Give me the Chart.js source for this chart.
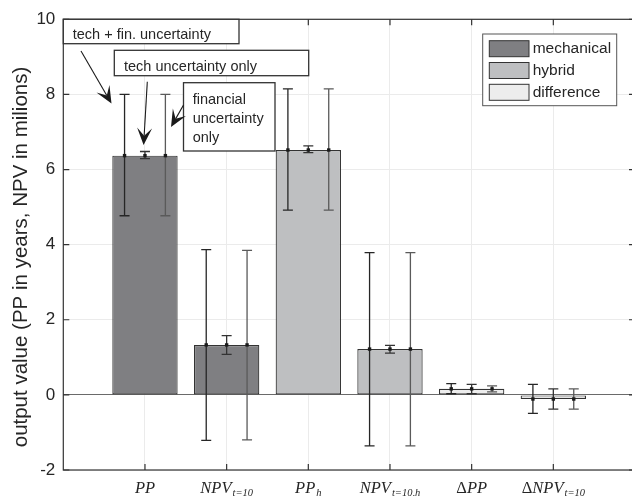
<!DOCTYPE html>
<html>
<head>
<meta charset="utf-8">
<script src="https://cdn.jsdelivr.net/npm/chart.js@4.4.0/dist/chart.umd.min.js"></script>
<style>
  html, body { margin: 0; padding: 0; background: #fff; overflow: hidden; }
  #wrap { width: 632px; height: 496px; overflow: hidden; }
</style>
</head>
<body>
<div id="wrap"><canvas id="chart" width="640" height="496"></canvas></div>
<script>
// categories (x labels are written LaTeX-style: prefix + italic name + subscript)
const labelPrefix = ['', '', '', '', 'Δ', 'Δ'];
const labelMain = ['PP', 'NPV', 'PP', 'NPV', 'PP', 'NPV'];
const labelSub = ['', 't=10', 'h', 't=10,h', '', 't=10'];

// which legend entry every bar belongs to
const seriesNames = ['mechanical', 'hybrid', 'difference'];
const seriesColors = ['#7f7f82', '#bebfc1', '#ededed'];
const barSeries = ['mechanical', 'mechanical', 'hybrid', 'hybrid', 'difference', 'difference'];

// bar heights (PP in years, NPV in millions)
const meanValues = [6.37, 1.33, 6.52, 1.22, 0.16, -0.11];

// error bars: tech + fin. uncertainty (left), tech only (centre), financial only (right)
const techFinLow = [4.77, -1.21, 4.92, -1.36, 0.03, -0.49];
const techFinHigh = [8.00, 3.87, 8.15, 3.79, 0.30, 0.28];
const techLow = [6.29, 1.08, 6.45, 1.11, 0.03, -0.38];
const techHigh = [6.48, 1.58, 6.63, 1.32, 0.28, 0.16];
const finLow = [4.77, -1.20, 4.92, -1.36, 0.08, -0.38];
const finHigh = [8.00, 3.85, 8.15, 3.79, 0.24, 0.16];

// y axis ticks
const yTicks = [-2, 0, 2, 4, 6, 8, 10];
const yTitle = 'output value (PP in years, NPV in milions)';

const sansFont = "'Liberation Sans', Arial, Helvetica, sans-serif";
const serifFont = "'Liberation Serif', 'Times New Roman', serif";
const axisColor = '#333333';

// one bar dataset per legend entry
const datasets = seriesNames.map((name, s) => ({
    label: name,
    data: meanValues
        .map((v, i) => ({ x: i + 1, y: v, series: barSeries[i] }))
        .filter(p => p.series === name),
    backgroundColor: seriesColors[s],
    borderColor: '#333333',
    borderWidth: 1.2,
    borderSkipped: false,
    grouped: false,
    categoryPercentage: 0.8,
    barPercentage: 1.0
}));

// error bars with a dot on the bar value
const errorBarPlugin = {
    id: 'errorBars',
    afterDatasetsDraw(chart) {
        const { ctx, scales: { x, y } } = chart;
        const groups = [
            { low: techFinLow, high: techFinHigh, shift: -0.25, color: '#262626' },
            { low: techLow, high: techHigh, shift: 0, color: '#333333' },
            { low: finLow, high: finHigh, shift: 0.25, color: '#5a5a5a' }
        ];
        ctx.save();
        groups.forEach(g => {
            meanValues.forEach((v, i) => {
                const px = x.getPixelForValue(i + 1 + g.shift);
                const yl = y.getPixelForValue(g.low[i]);
                const yh = y.getPixelForValue(g.high[i]);
                ctx.strokeStyle = g.color;
                ctx.lineWidth = 1.3;
                ctx.beginPath();
                ctx.moveTo(px, yl); ctx.lineTo(px, yh);
                ctx.moveTo(px - 5, yl); ctx.lineTo(px + 5, yl);
                ctx.moveTo(px - 5, yh); ctx.lineTo(px + 5, yh);
                ctx.stroke();
                ctx.fillStyle = '#1a1a1a';
                ctx.fillRect(px - 1.7, y.getPixelForValue(v) - 1.7, 3.4, 3.4);
            });
        });
        ctx.restore();
    }
};

function drawArrow(ctx, x0, y0, x1, y1) {
    const dx = x1 - x0, dy = y1 - y0;
    const len = Math.hypot(dx, dy);
    const ux = dx / len, uy = dy / len;
    const nx = -uy, ny = ux;
    const L = 17, W = 7.5, notch = 0.55;
    ctx.beginPath();
    ctx.moveTo(x0, y0);
    ctx.lineTo(x1 - ux * L * notch, y1 - uy * L * notch);
    ctx.stroke();
    ctx.beginPath();
    ctx.moveTo(x1, y1);
    ctx.lineTo(x1 - ux * L + nx * W, y1 - uy * L + ny * W);
    ctx.lineTo(x1 - ux * L * notch, y1 - uy * L * notch);
    ctx.lineTo(x1 - ux * L - nx * W, y1 - uy * L - ny * W);
    ctx.closePath();
    ctx.fill();
}

function textBox(ctx, x0, y0, x1, y1, lines, tx, ty, lh) {
    ctx.fillStyle = '#ffffff';
    ctx.fillRect(x0, y0, x1 - x0, y1 - y0);
    ctx.strokeStyle = '#333333';
    ctx.lineWidth = 1.3;
    ctx.strokeRect(x0, y0, x1 - x0, y1 - y0);
    ctx.fillStyle = '#262626';
    ctx.font = '14.5px ' + sansFont;
    ctx.textAlign = 'left';
    ctx.textBaseline = 'alphabetic';
    lines.forEach((t, k) => ctx.fillText(t, tx, ty + k * lh));
}

// MATLAB-like frame, inward ticks, axis title, LaTeX-ish x labels, annotations and legend
const decorPlugin = {
    id: 'decor',
    afterDraw(chart) {
        const { ctx, chartArea: a, scales: { x, y } } = chart;
        ctx.save();
        // frame
        ctx.strokeStyle = axisColor;
        ctx.lineWidth = 1.2;
        ctx.strokeRect(a.left, a.top, a.right - a.left, a.bottom - a.top);
        // inward ticks
        ctx.beginPath();
        yTicks.forEach(t => {
            const py = y.getPixelForValue(t);
            ctx.moveTo(a.left, py); ctx.lineTo(a.left + 6, py);
            ctx.moveTo(a.right, py); ctx.lineTo(a.right - 6, py);
        });
        meanValues.forEach((v, i) => {
            const px = x.getPixelForValue(i + 1);
            ctx.moveTo(px, a.bottom); ctx.lineTo(px, a.bottom - 6);
            ctx.moveTo(px, a.top); ctx.lineTo(px, a.top + 6);
        });
        ctx.stroke();

        // y axis title
        ctx.save();
        ctx.translate(21, 257);
        ctx.rotate(-Math.PI / 2);
        ctx.fillStyle = '#262626';
        ctx.font = '20.5px ' + sansFont;
        ctx.textAlign = 'center';
        ctx.textBaseline = 'middle';
        ctx.fillText(yTitle, 0, 0);
        ctx.restore();

        // x labels
        ctx.fillStyle = '#262626';
        ctx.textBaseline = 'alphabetic';
        ctx.textAlign = 'left';
        const base = 493;
        labelMain.forEach((m, i) => {
            const fPre = '16.5px ' + serifFont;
            const fMain = 'italic 16.5px ' + serifFont;
            const fSub = 'italic 10.5px ' + serifFont;
            ctx.font = fPre; const wPre = ctx.measureText(labelPrefix[i]).width;
            ctx.font = fMain; const wMain = ctx.measureText(m).width;
            ctx.font = fSub; const wSub = labelSub[i] ? ctx.measureText(labelSub[i]).width + 1 : 0;
            let px = x.getPixelForValue(i + 1) - (wPre + wMain + wSub) / 2;
            ctx.font = fPre; ctx.fillText(labelPrefix[i], px, base); px += wPre;
            ctx.font = fMain; ctx.fillText(m, px, base); px += wMain + 1;
            ctx.font = fSub; ctx.fillText(labelSub[i], px, base + 3);
        });

        // annotations
        textBox(ctx, 63.3, 19.3, 239, 43.7, ['tech + fin. uncertainty'], 72.7, 39, 0);
        textBox(ctx, 114.3, 50.3, 308.7, 75.7, ['tech uncertainty only'], 124, 70.5, 0);
        textBox(ctx, 183.5, 82.7, 275, 151, ['financial', 'uncertainty', 'only'], 192.7, 103.5, 19.3);
        ctx.strokeStyle = '#1a1a1a';
        ctx.fillStyle = '#1a1a1a';
        ctx.lineWidth = 1.1;
        drawArrow(ctx, 81, 51, 111.5, 103.5);
        drawArrow(ctx, 147.3, 81.7, 143.6, 145);
        drawArrow(ctx, 183.5, 105, 171, 127);

        // legend
        ctx.fillStyle = '#ffffff';
        ctx.fillRect(482.7, 34, 134, 71.7);
        ctx.strokeStyle = '#555555';
        ctx.lineWidth = 1;
        ctx.strokeRect(482.7, 34, 134, 71.7);
        chart.data.datasets.forEach((ds, k) => {
            const top = 40.7 + k * 21.8;
            ctx.fillStyle = ds.backgroundColor;
            ctx.fillRect(489.3, top, 39.7, 16);
            ctx.strokeStyle = '#333333';
            ctx.strokeRect(489.3, top, 39.7, 16);
            ctx.fillStyle = '#262626';
            ctx.font = '15.5px ' + sansFont;
            ctx.textBaseline = 'middle';
            ctx.fillText(ds.label, 532.7, top + 8.5);
        });
        ctx.restore();
    }
};

new Chart(document.getElementById('chart').getContext('2d'), {
    type: 'bar',
    data: { datasets: datasets },
    options: {
        responsive: false,
        animation: false,
        layout: { padding: { top: 19.3, right: 5, left: 0, bottom: 0 } },
        plugins: { legend: { display: false }, tooltip: { enabled: false } },
        scales: {
            x: {
                type: 'linear',
                min: 0,
                max: 7,
                offset: false,
                ticks: { display: false, stepSize: 1 },
                grid: {
                    offset: false,
                    drawTicks: false,
                    color: c => (c.tick.value === 0 || c.tick.value === 7) ? 'rgba(0,0,0,0)' : '#ebebeb'
                },
                border: { display: false },
                afterFit: s => { s.height = 26; }
            },
            y: {
                min: -2,
                max: 10,
                afterBuildTicks: s => { s.ticks = yTicks.map(v => ({ value: v })); },
                ticks: { padding: 8, color: '#262626', font: { family: sansFont, size: 17 } },
                grid: {
                    drawTicks: false,
                    color: c => c.tick.value === 0 ? '#6a6a6a' : '#ebebeb'
                },
                border: { display: false },
                afterFit: s => { s.width = 63.3; }
            }
        }
    },
    plugins: [errorBarPlugin, decorPlugin]
});
</script>
</body>
</html>
